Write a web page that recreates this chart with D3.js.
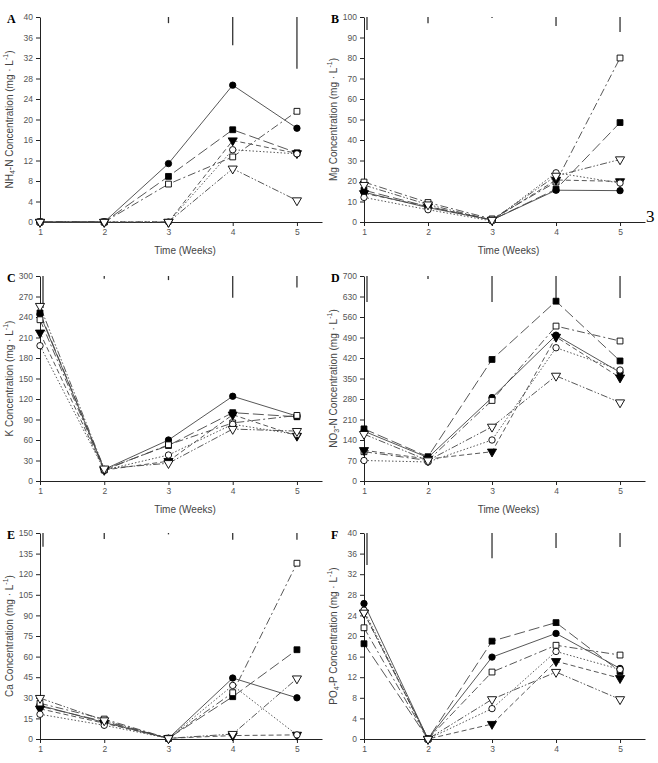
<!DOCTYPE html>
<html>
<head>
<meta charset="utf-8">
<script src="https://cdn.jsdelivr.net/npm/d3@7"></script>
<style>
  body { margin: 0; background: #fff; }
  svg { display: block; font-family: "Liberation Sans", Arial, sans-serif; }
</style>
</head>
<body>
<script>
// weeks on the x axis, and the six treatments (drawn by marker)
const weeks = [1, 2, 3, 4, 5];
const treatments = ["filledCircle", "filledSquare", "openSquare", "filledTriangle", "openCircle", "openTriangle"];

// A: NH4-N, one row per treatment
const nh4Values = [
  [0, 0, 11.4, 26.7, 18.3],
  [0, 0, 8.9, 18.0, 13.5],
  [0, 0, 7.4, 12.7, 21.6],
  [0, 0, 0, 15.9, 13.4],
  [0, 0, 0, 14.1, 13.3],
  [0, 0, 0, 10.4, 4.2]
];
const nh4Lsd = [0, 0, 1.2, 5.5, 10.1];

// B: Mg
const mgValues = [
  [14.5, 7, 1, 15.5, 15.3],
  [15.5, 7.5, 1, 16, 48.5],
  [19.5, 9.5, 1.5, 19.5, 80],
  [14, 7.5, 1, 20.5, 19.8],
  [12, 6, 0.5, 24, 19],
  [18, 8.5, 1, 22.5, 30.5]
];
const mgLsd = [6.3, 3, 0.5, 4.4, 7.3];

// C: K
const kValues = [
  [244, 17, 60, 124, 95],
  [246, 17, 52, 100, 94],
  [236, 16, 53, 85, 96],
  [217, 16, 29, 97, 66],
  [198, 16, 38, 83, 68],
  [256, 18, 26, 76, 73]
];
const kLsd = [47, 4, 6, 32, 17];

// D: NO3-N
const no3Values = [
  [170, 80, 285, 498, 371],
  [178, 83, 415, 614, 410],
  [100, 70, 275, 529, 478],
  [105, 75, 100, 492, 353],
  [70, 65, 140, 455, 379],
  [160, 70, 185, 359, 268]
];
const no3Lsd = [89, 10, 89, 82, 75];

// E: Ca
const caValues = [
  [24.5, 12, 0.5, 44.4, 30],
  [23.8, 12.8, 0.5, 30.8, 65],
  [26, 14.5, 0.5, 33.7, 128],
  [22, 11.5, 0.5, 2.5, 3],
  [18, 10, 0.5, 39, 3],
  [29.8, 13.5, 0.5, 3.6, 44]
];
const caLsd = [10, 4.4, 1, 5, 5];

// F: PO4-P
const po4Values = [
  [26.3, 0, 15.9, 20.5, 13.7],
  [18.5, 0, 19, 22.6, 13.1],
  [21.6, 0, 13, 18.2, 16.3],
  [24.5, 0, 2.9, 15.1, 11.8],
  [25, 0, 5.9, 17, 13.5],
  [24.5, 0, 7.7, 13, 7.7]
];
const po4Lsd = [6.2, 0, 4.9, 2.9, 2.7];

// y tick labels (max, step) for each panel
const yMax = [40, 100, 300, 700, 150, 40];
const yStep = [4, 10, 30, 70, 15, 4];

// y titles: [text, shift] pieces
const yTitles = [
  [["NH", ""], ["4", "sub"], ["-N Concentration (mg · L", ""], ["-1", "super"], [")", ""]],
  [["Mg Concentration (mg · L", ""], ["-1", "super"], [")", ""]],
  [["K Concentration (mg · L", ""], ["-1", "super"], [")", ""]],
  [["NO", ""], ["3", "sub"], ["-N Concentration (mg · L", ""], ["-1", "super"], [")", ""]],
  [["Ca Concentration (mg · L", ""], ["-1", "super"], [")", ""]],
  [["PO", ""], ["4", "sub"], ["-P Concentration (mg · L", ""], ["-1", "super"], [")", ""]]
];
const letters = ["A", "B", "C", "D", "E", "F"];

const panels = [
  { values: nh4Values, lsd: nh4Lsd },
  { values: mgValues, lsd: mgLsd },
  { values: kValues, lsd: kLsd },
  { values: no3Values, lsd: no3Lsd },
  { values: caValues, lsd: caLsd },
  { values: po4Values, lsd: po4Lsd }
];

const w = 658;
const h = 763;

const cols = [
  { left: 40, right: 322, titleX: 9, letterX: 7 },
  { left: 364, right: 645, titleX: 333, letterX: 331 }
];
const rows = [
  { top: 17, bottom: 222, xTitle: true },
  { top: 276, bottom: 481, xTitle: true },
  { top: 533, bottom: 739, xTitle: false }
];

const dashes = [null, "11,4", "8,3,2,3", "5,3", "1.5,2", "7,2,1.5,2,1.5,2"];
const shapes = [
  { type: d3.symbolCircle, size: 32, fill: "#000", rot: 0 },
  { type: d3.symbolSquare, size: 34, fill: "#000", rot: 0 },
  { type: d3.symbolSquare, size: 34, fill: "#fff", rot: 0 },
  { type: d3.symbolTriangle, size: 36, fill: "#000", rot: 180 },
  { type: d3.symbolCircle, size: 32, fill: "#fff", rot: 0 },
  { type: d3.symbolTriangle, size: 36, fill: "#fff", rot: 180 }
];

const svg = d3.select("body").append("svg").attr("width", w).attr("height", h);

const drawPanel = (p, i) => {
  const col = cols[i % 2];
  const row = rows[Math.floor(i / 2)];
  const x = d3.scaleLinear().domain([1, 5.39]).range([col.left, col.right]);
  const y = d3.scaleLinear().domain([0, yMax[i]]).range([row.bottom, row.top]);
  const g = svg.append("g");

  const xAxis = g.append("g")
    .attr("transform", `translate(0,${row.bottom})`)
    .call(d3.axisBottom(x).tickValues(weeks).tickFormat(d3.format("d")).tickSize(4).tickSizeOuter(0).tickPadding(3));
  const yAxis = g.append("g")
    .attr("transform", `translate(${col.left},0)`)
    .call(d3.axisLeft(y).tickValues(d3.range(0, yMax[i] + yStep[i] / 2, yStep[i])).tickSize(4).tickSizeOuter(0).tickPadding(3));
  [xAxis, yAxis].forEach((a) => {
    a.selectAll("text").attr("font-size", 8.5).attr("fill", "#555").attr("font-family", "Liberation Sans, Arial, sans-serif");
    a.selectAll("line, path").attr("stroke", "#222");
  });

  // lsd bars hanging from the top
  g.selectAll(".lsd")
    .data(p.lsd)
    .enter()
    .append("line")
    .attr("x1", (d, j) => x(weeks[j]) + (j === 0 ? 3 : 0))
    .attr("x2", (d, j) => x(weeks[j]) + (j === 0 ? 3 : 0))
    .attr("y1", y(yMax[i]))
    .attr("y2", (d) => y(yMax[i] - d))
    .attr("stroke", "#333")
    .attr("stroke-width", 1.3);

  const line = d3.line().x((d, j) => x(weeks[j])).y((d) => y(d));

  g.selectAll(".series")
    .data(p.values)
    .enter()
    .append("path")
    .attr("d", line)
    .attr("fill", "none")
    .attr("stroke", "#444")
    .attr("stroke-width", 0.9)
    .attr("stroke-dasharray", (d, k) => dashes[k]);

  p.values.forEach((vals, k) => {
    const s = shapes[k];
    g.selectAll(null)
      .data(vals)
      .enter()
      .append("path")
      .attr("d", d3.symbol().type(s.type).size(s.size))
      .attr("transform", (d, j) => `translate(${x(weeks[j])},${y(d)}) rotate(${s.rot})`)
      .attr("fill", s.fill)
      .attr("stroke", "#000")
      .attr("stroke-width", 0.9);
  });

  // titles
  const cy = (row.top + row.bottom) / 2;
  const t = g.append("text")
    .attr("transform", `translate(${col.titleX},${cy}) rotate(-90)`)
    .attr("text-anchor", "middle")
    .attr("dominant-baseline", "central")
    .attr("font-size", 10)
    .attr("fill", "#444");
  yTitles[i].forEach(([txt, shift]) => {
    const ts = t.append("tspan").text(txt);
    if (shift) ts.attr("baseline-shift", shift).attr("font-size", 7);
  });

  if (row.xTitle) {
    g.append("text")
      .attr("x", (col.left + col.right) / 2 + 4)
      .attr("y", row.bottom + 32)
      .attr("text-anchor", "middle")
      .attr("font-size", 10)
      .attr("fill", "#444")
      .text("Time (Weeks)");
  }

  g.append("text")
    .attr("x", col.letterX)
    .attr("y", row.top + 6)
    .attr("font-family", "Liberation Serif, serif")
    .attr("font-weight", "bold")
    .attr("font-size", 12)
    .text(letters[i]);
};

panels.forEach(drawPanel);

// stray page mark beside panel B
svg.append("text")
  .attr("x", 646)
  .attr("y", 222)
  .attr("font-family", "Liberation Serif, serif")
  .attr("font-size", 17)
  .text("3");
</script>
</body>
</html>
